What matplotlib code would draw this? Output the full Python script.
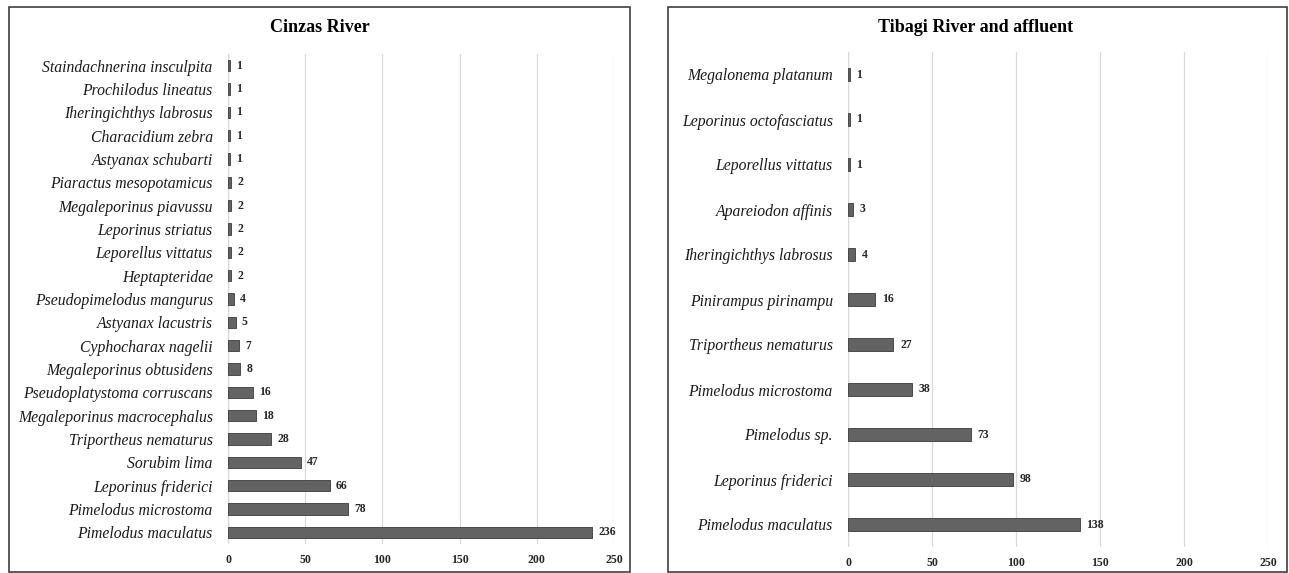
import matplotlib.pyplot as plt
from matplotlib.patches import Rectangle

plt.rcParams["font.family"] = ["Liberation Serif", "DejaVu Serif"]

W, H = 1289, 573

cinzas_species = [
    "Staindachnerina insculpita", "Prochilodus lineatus", "Iheringichthys labrosus",
    "Characidium zebra", "Astyanax schubarti", "Piaractus mesopotamicus",
    "Megaleporinus piavussu", "Leporinus striatus", "Leporellus vittatus",
    "Heptapteridae", "Pseudopimelodus mangurus", "Astyanax lacustris",
    "Cyphocharax nagelii", "Megaleporinus obtusidens", "Pseudoplatystoma corruscans",
    "Megaleporinus macrocephalus", "Triportheus nematurus", "Sorubim lima",
    "Leporinus friderici", "Pimelodus microstoma", "Pimelodus maculatus",
]
cinzas_counts = [1, 1, 1, 1, 1, 2, 2, 2, 2, 2, 4, 5, 7, 8, 16, 18, 28, 47, 66, 78, 236]

tibagi_species = [
    "Megalonema platanum", "Leporinus octofasciatus", "Leporellus vittatus",
    "Apareiodon affinis", "Iheringichthys labrosus", "Pinirampus pirinampu",
    "Triportheus nematurus", "Pimelodus microstoma", "Pimelodus sp.",
    "Leporinus friderici", "Pimelodus maculatus",
]
tibagi_counts = [1, 1, 1, 3, 4, 16, 27, 38, 73, 98, 138]

xticks = [0, 50, 100, 150, 200, 250]


def px_axes(fig, x0, x1, y0, y1):
    # pixel box (top-left origin) -> figure fraction
    return fig.add_axes([x0 / W, 1 - y1 / H, (x1 - x0) / W, (y1 - y0) / H])


def draw_panel(ax, species, counts, bar_h):
    n = len(species)
    pos = list(range(n))[::-1]
    ax.barh(pos, counts, height=bar_h, color="#636363", edgecolor="#3a3a3a", linewidth=0.6, zorder=3)
    for p, c in zip(pos, counts):
        ax.text(c + 4, p, str(c), va="center", ha="left", fontsize=8.5, fontweight="bold", color="#262626")
    ax.set_xlim(0, 250)
    ax.set_ylim(-0.5, n - 0.5)
    ax.set_xticks(xticks)
    ax.set_xticklabels([str(t) for t in xticks], fontweight="bold", fontsize=8.5, color="#262626")
    ax.set_yticks(pos)
    ax.set_yticklabels(species, fontstyle="italic", fontsize=11.3, color="#1a1a1a")
    ax.tick_params(length=0, axis="x", pad=7)
    ax.tick_params(length=0, axis="y", pad=11)
    ax.grid(axis="x", color="#d9d9d9", linewidth=0.9, zorder=0)
    for s in ax.spines.values():
        s.set_visible(False)
    ax.axvline(0, color="#bfbfbf", linewidth=0.9, zorder=1)
    return ax


fig = plt.figure(figsize=(W / 100, H / 100), dpi=100)

# panel frames
fig.patches.append(Rectangle((9 / W, 1 - 572 / H), (630 - 9) / W, (572 - 7) / H,
                             transform=fig.transFigure, fill=False, edgecolor="#404040", linewidth=1.2))
fig.patches.append(Rectangle((668 / W, 1 - 572 / H), (1287 - 668) / W, (572 - 7) / H,
                             transform=fig.transFigure, fill=False, edgecolor="#404040", linewidth=1.2))

ax1 = px_axes(fig, 228, 614, 54, 544)
draw_panel(ax1, cinzas_species, cinzas_counts, 0.49)
fig.text(320 / W, 1 - 28 / H, "Cinzas River", ha="center", va="center", fontsize=13, fontweight="bold")

ax2 = px_axes(fig, 848, 1268, 52, 547)
draw_panel(ax2, tibagi_species, tibagi_counts, 0.27)
fig.text(976 / W, 1 - 28 / H, "Tibagi River and affluent", ha="center", va="center", fontsize=13, fontweight="bold")

fig.savefig("out.png", dpi=100)
